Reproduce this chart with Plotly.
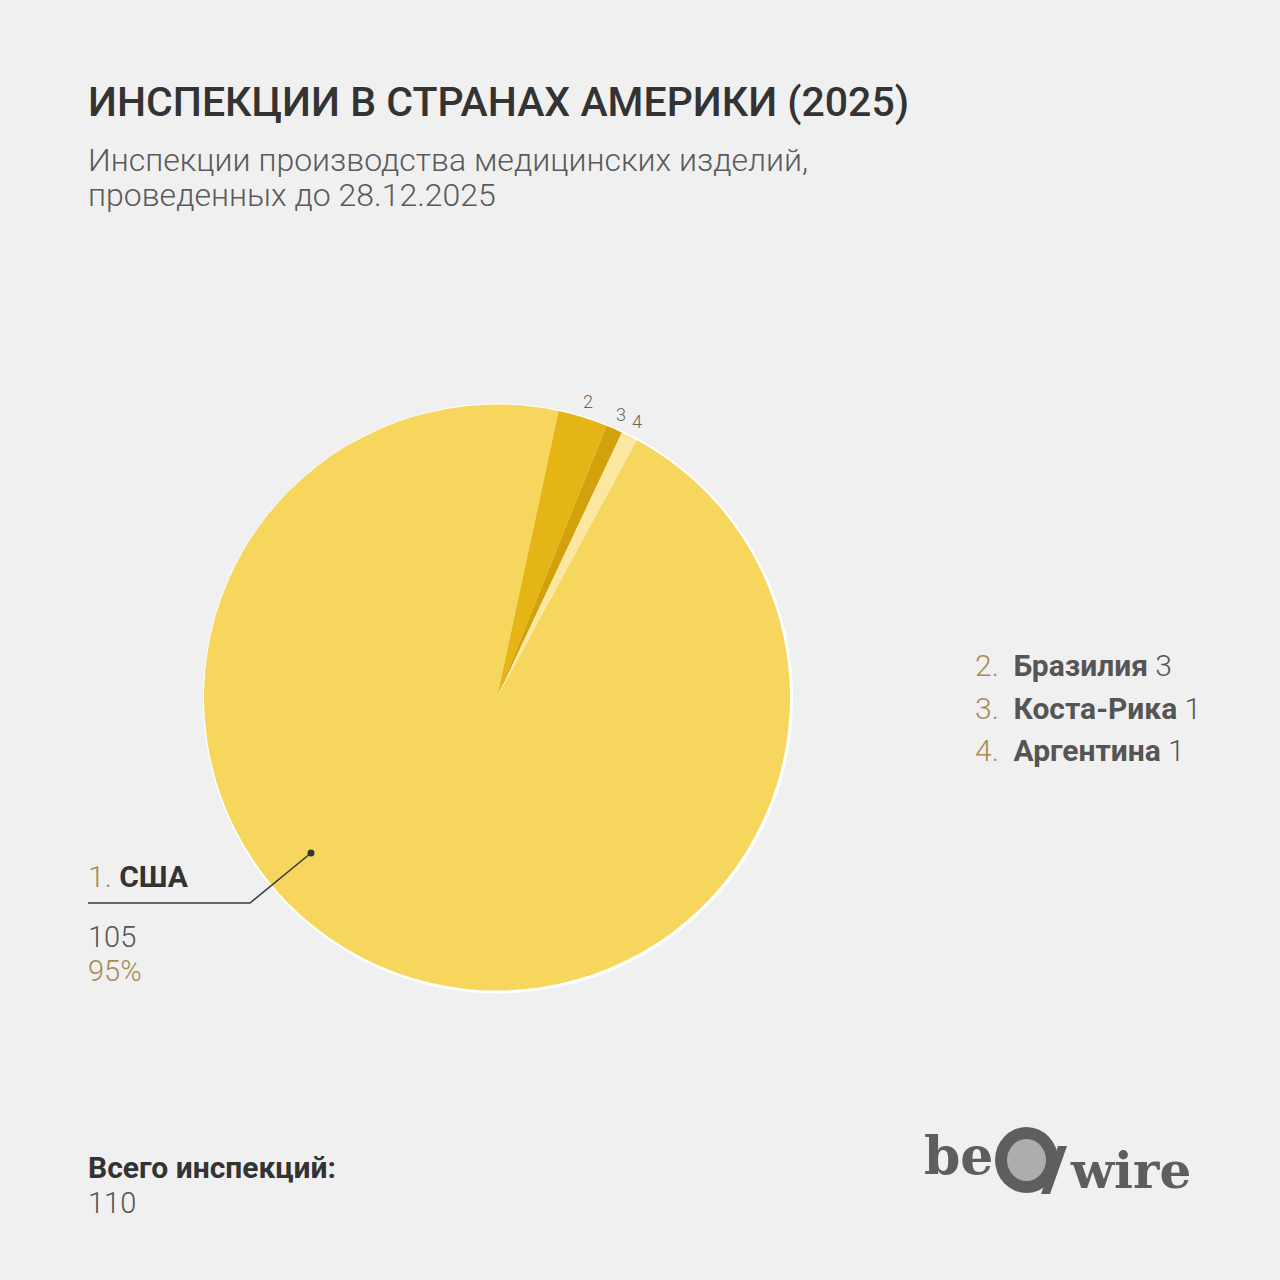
import math
import plotly.graph_objects as go

# ---- data ----
countries = ["США", "Бразилия", "Коста-Рика", "Аргентина"]
ranks = ["1", "2", "3", "4"]
inspections = [105, 3, 1, 1]
total_label = "110"

W = H = 1280
BG = "#f1f0f0"
colors = ["#f6d65c", "#e5b515", "#d3a10b", "#fbe7a0"]

# pie geometry (pixels)
cx, cy, R = 497, 697.5, 293
ROT = 28.5

def px(x):
    return x / W

def py(y):
    return 1 - y / H

fig = go.Figure()
fig.add_trace(go.Pie(
    labels=countries,
    values=inspections,
    sort=False,
    direction="clockwise",
    rotation=ROT,
    marker=dict(colors=colors, line=dict(width=0)),
    textinfo="none",
    hoverinfo="label+value+percent",
    showlegend=False,
    domain=dict(x=[px(cx - R), px(cx + R)], y=[py(cy + R), py(cy - R)]),
))

shapes = []
# soft white rim behind the pie
shapes.append(dict(type="circle", xref="paper", yref="paper", layer="below",
                   x0=px(cx - R - 1), x1=px(cx + R + 3), y0=py(cy + R + 3), y1=py(cy - R - 1),
                   fillcolor="#ffffff", line=dict(width=0)))

annotations = []
# small outside numeric labels for the tiny slices, positioned from data
tot = sum(inspections)
cum = 0
for i, v in enumerate(inspections):
    mid = ROT + (cum + v / 2) / tot * 360
    cum += v
    if i == 0:
        continue
    a = math.radians(mid)
    lx = cx + 1.055 * R * math.sin(a)
    ly = cy - 1.055 * R * math.cos(a)
    annotations.append(dict(x=px(lx), y=py(ly), xref="paper", yref="paper",
                            text=ranks[i], showarrow=False, xanchor="center", yanchor="middle",
                            font=dict(family="Roboto", size=18, color="#6f6250", weight=300)))

# title & subtitle
annotations.append(dict(x=px(86), y=py(102), xref="paper", yref="paper", xanchor="left", yanchor="middle",
                        text="ИНСПЕКЦИИ В СТРАНАХ АМЕРИКИ (2025)", showarrow=False,
                        font=dict(family="Roboto", size=41, color="#333333", weight=500)))
for txt, yy in [("Инспекции производства медицинских изделий,", 160),
                ("проведенных до 28.12.2025", 195)]:
    annotations.append(dict(x=px(86), y=py(yy), xref="paper", yref="paper", xanchor="left", yanchor="middle",
                            text=txt, showarrow=False,
                            font=dict(family="Roboto", size=32, color="#5a5a5a", weight=300)))

# right-hand list
GOLD = "#a58c52"
row_y = [665, 708, 750]
for j, i in enumerate(range(1, 4)):
    annotations.append(dict(
        x=px(973), y=py(row_y[j]), xref="paper", yref="paper", xanchor="left", yanchor="middle",
        text=f"<span style='color:{GOLD}'>{ranks[i]}.</span>  <b>{countries[i]}</b> {inspections[i]}",
        showarrow=False, font=dict(family="Roboto", size=30, color="#555555", weight=300)))

# USA label block
pct = round(inspections[0] / tot * 100)
annotations.append(dict(x=px(86), y=py(876), xref="paper", yref="paper", xanchor="left", yanchor="middle",
                        text=f"<span style='color:{GOLD}'>{ranks[0]}.</span> <b>{countries[0]}</b>",
                        showarrow=False, font=dict(family="Roboto", size=30, color="#333333", weight=300)))
annotations.append(dict(x=px(86), y=py(937), xref="paper", yref="paper", xanchor="left", yanchor="middle",
                        text=str(inspections[0]), showarrow=False,
                        font=dict(family="Roboto", size=29, color="#555555", weight=300)))
annotations.append(dict(x=px(86), y=py(971), xref="paper", yref="paper", xanchor="left", yanchor="middle",
                        text=f"{pct}%", showarrow=False,
                        font=dict(family="Roboto", size=29, color=GOLD, weight=300)))
shapes.append(dict(type="path", xref="paper", yref="paper",
                   path=f"M {px(88)} {py(903)} L {px(250)} {py(903)} L {px(311)} {py(853)}",
                   line=dict(color="#3a3a3a", width=1.6)))
shapes.append(dict(type="circle", xref="paper", yref="paper",
                   x0=px(307.5), x1=px(314.5), y0=py(856.5), y1=py(849.5),
                   fillcolor="#333333", line=dict(width=0)))

# total
annotations.append(dict(x=px(86), y=py(1167), xref="paper", yref="paper", xanchor="left", yanchor="middle",
                        text="<b>Всего инспекций:</b>", showarrow=False,
                        font=dict(family="Roboto", size=30, color="#333333")))
annotations.append(dict(x=px(86), y=py(1203), xref="paper", yref="paper", xanchor="left", yanchor="middle",
                        text=total_label, showarrow=False,
                        font=dict(family="Roboto", size=29, color="#555555", weight=300)))

# logo "be@wire"
LOGO = "#5e5e5e"
annotations.append(dict(x=px(922), y=py(1155), xref="paper", yref="paper", xanchor="left", yanchor="middle",
                        text="<b>be</b>", showarrow=False,
                        font=dict(family="DejaVu Serif", size=52, color=LOGO)))
shapes.append(dict(type="circle", xref="paper", yref="paper",
                   x0=px(995), x1=px(1058), y0=py(1193), y1=py(1127),
                   fillcolor=LOGO, line=dict(width=0)))
shapes.append(dict(type="circle", xref="paper", yref="paper",
                   x0=px(1007), x1=px(1046), y0=py(1181), y1=py(1139),
                   fillcolor="#adadad", line=dict(width=0)))
shapes.append(dict(type="path", xref="paper", yref="paper",
                   path=f"M {px(1058)} {py(1146)} L {px(1067)} {py(1146)} L {px(1050)} {py(1194)} L {px(1041)} {py(1194)} Z",
                   fillcolor=LOGO, line=dict(width=0)))
annotations.append(dict(x=px(1068), y=py(1170), xref="paper", yref="paper", xanchor="left", yanchor="middle",
                        text="<b>wire</b>", showarrow=False,
                        font=dict(family="DejaVu Serif", size=50, color=LOGO)))

fig.update_layout(
    width=W, height=H,
    margin=dict(l=0, r=0, t=0, b=0),
    paper_bgcolor=BG, plot_bgcolor=BG,
    shapes=shapes, annotations=annotations,
    font=dict(family="Roboto"),
)
fig.write_html("out.html", config={"displayModeBar": False},
               post_script="document.body.style.margin='0';")
